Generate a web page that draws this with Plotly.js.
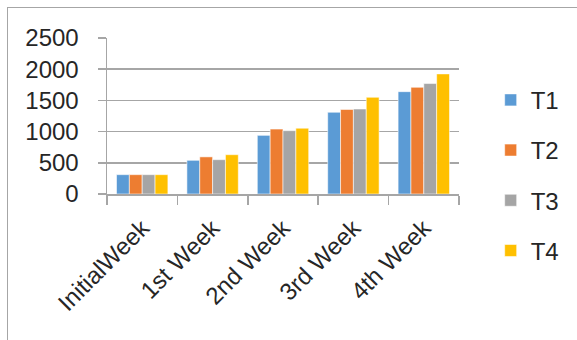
<!DOCTYPE html>
<html>
<head>
<meta charset="utf-8">
<script src="https://cdn.plot.ly/plotly-3.0.1.min.js"></script>
<style>
html,body{margin:0;padding:0;background:#fff;}
#frame{position:absolute;left:7px;top:7px;width:570px;height:333px;border-left:1.5px solid #a6a6a6;border-top:1.5px solid #a6a6a6;box-sizing:border-box;}
#chart{position:absolute;left:0;top:0;width:577px;height:340px;}
</style>
</head>
<body>
<div id="frame"></div>
<div id="chart"></div>
<script>
var categories = ["InitialWeek", "1st Week", "2nd Week", "3rd Week", "4th Week"];
var seriesNames = ["T1", "T2", "T3", "T4"];
var t1 = [310, 540, 940, 1310, 1640];
var t2 = [310, 595, 1040, 1355, 1710];
var t3 = [310, 550, 1015, 1362, 1770];
var t4 = [310, 630, 1055, 1550, 1925];
var yTicks = [0, 500, 1000, 1500, 2000, 2500];
var colors = ["#5B9BD5", "#ED7D31", "#A5A5A5", "#FFC000"];

var values = [t1, t2, t3, t4];
var traces = values.map(function (v, i) {
  return {
    type: "bar",
    x: categories,
    y: v,
    name: seriesNames[i],
    legendgroup: "g" + i,
    marker: {color: colors[i], line: {color: "rgba(255,255,255,0.55)", width: 1}}
  };
});

var font = {family: "Liberation Sans, Arial, sans-serif", size: 24, color: "#262626"};

var layout = {
  width: 577,
  height: 340,
  margin: {l: 107, r: 114, t: 38, b: 146},
  paper_bgcolor: "rgba(0,0,0,0)",
  plot_bgcolor: "rgba(0,0,0,0)",
  font: font,
  barmode: "group",
  bargap: 0.27,
  bargroupgap: 0,
  showlegend: true,
  legend: {
    x: 1.09, xanchor: "left", y: 0.745, yanchor: "top",
    maxheight: 320,
    font: font, tracegroupgap: 16, bgcolor: "rgba(0,0,0,0)"
  },
  xaxis: {
    type: "category",
    tickangle: -45,
    tickson: "boundaries",
    ticks: "outside",
    ticklen: 9,
    tickcolor: "#a6a6a6",
    tickwidth: 1.5,
    showline: true,
    linecolor: "#a6a6a6",
    linewidth: 1.5,
    showgrid: false,
    ticklabelstandoff: 9,
    tickfont: font
  },
  yaxis: {
    range: [0, 2500],
    tickvals: yTicks,
    ticktext: yTicks.map(String),
    ticks: "outside",
    ticklen: 8,
    tickcolor: "#a6a6a6",
    tickwidth: 1.5,
    showline: true,
    linecolor: "#a6a6a6",
    linewidth: 1.5,
    gridcolor: "#a6a6a6",
    gridwidth: 1.5,
    zeroline: false,
    ticklabelstandoff: 14,
    tickfont: font
  }
};

Plotly.newPlot("chart", traces, layout, {staticPlot: true, displayModeBar: false});
</script>
</body>
</html>
